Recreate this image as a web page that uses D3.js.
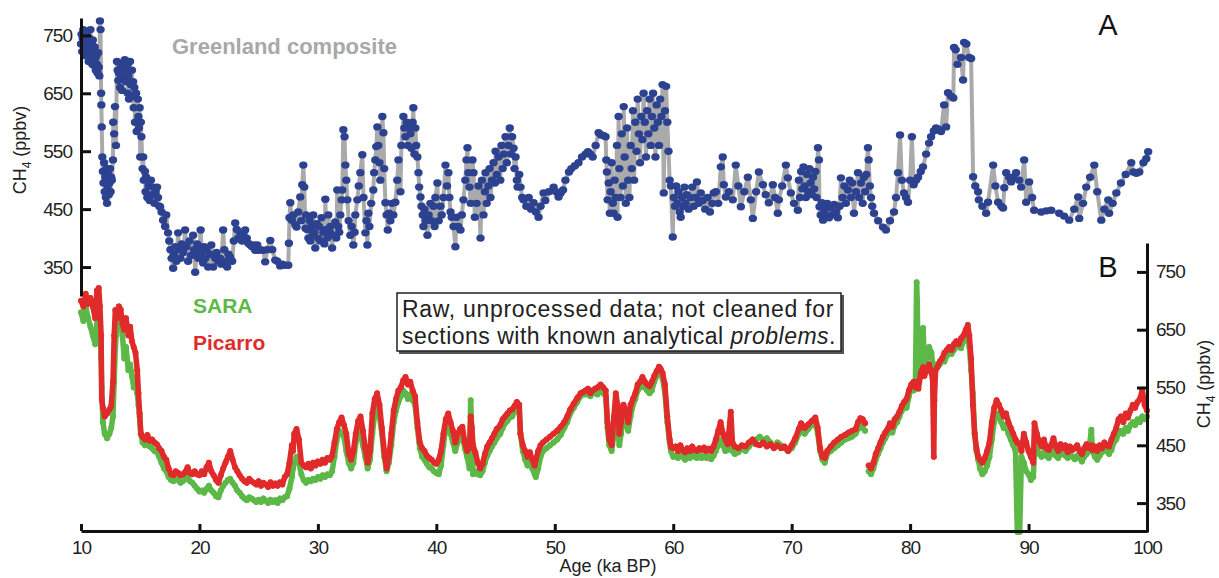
<!DOCTYPE html>
<html>
<head>
<meta charset="utf-8">
<script src="https://cdn.jsdelivr.net/npm/d3@7"></script>
<style>
  body { margin: 0; background: #fff; }
  svg { display: block; font-family: "Liberation Sans", Arial, Helvetica, sans-serif; }
</style>
</head>
<body>
<script>
// Greenland composite CH4, [age ka BP, ppbv]
const greenland = [
[10.0,735],[10.05,752],[10.1,722],[10.15,745],[10.2,760],[10.25,728],[10.3,740],[10.35,715],[10.4,748],[10.45,732],[10.5,756],[10.55,718],[10.6,738],[10.65,705],[10.7,745],[10.75,725],[10.8,760],[10.85,712],[10.9,735],[10.95,700],[11.0,742],[11.05,722],[11.1,698],[11.15,730],[11.2,710],[11.25,690],[11.3,715],[11.35,700],[11.4,685],[11.45,720],[11.5,695],[11.55,680],[11.6,775],[11.65,760],
[11.7,650],[11.72,630],[11.75,592],[11.8,540],[11.85,515],[11.9,495],[11.95,530],[12.0,480],[12.05,505],[12.1,470],[12.15,520],[12.2,460],[12.25,490],[12.3,510],[12.35,475],[12.4,495],[12.45,520],[12.5,480],[12.55,505],
[12.6,500],[12.7,535],[12.72,600],[12.8,580],[12.87,627],[12.95,560],[13.04,705],[13.1,690],[13.15,672],[13.2,685],[13.3,660],[13.35,700],[13.4,680],[13.47,655],[13.55,695],[13.6,675],[13.7,708],[13.75,690],[13.8,670],[13.9,700],[13.95,650],[14.0,680],[14.05,640],[14.14,705],[14.2,665],[14.3,690],[14.35,645],[14.4,670],[14.45,625],[14.5,660],[14.56,600],[14.65,650],[14.7,584],[14.8,640],[14.85,610],[14.9,590],[14.95,625],[15.0,540],[15.05,600],[15.1,575],[15.2,520],[15.25,540],[15.3,500],[15.4,515],[15.45,480],[15.5,505],[15.6,470],[15.7,490],[15.8,465],[15.9,500],[16.0,475],[16.1,488],[16.2,460],[16.3,480],[16.42,488],[16.5,470],[16.6,455],[16.68,454],[16.8,445],[16.93,431],[17.1,420],[17.2,440],[17.35,409],[17.45,395],[17.55,380],[17.65,365],[17.78,348],[17.85,372],[17.95,385],[18.05,360],[18.2,409],[18.3,380],[18.4,365],[18.5,390],[18.62,375],[18.79,414],[18.9,385],[19.04,360],[19.15,395],[19.3,370],[19.47,405],[19.55,380],[19.64,341],[19.75,372],[19.81,390],[19.9,365],[20.0,385],[20.1,414],[20.2,375],[20.31,357],[20.4,385],[20.5,365],[20.6,380],[20.74,350],[20.9,372],[21.0,388],[21.16,350],[21.33,365],[21.45,375],[21.58,360],[21.75,365],[21.85,355],[22.0,414],[22.1,380],[22.17,360],[22.34,350],[22.45,372],[22.6,367],[22.76,360],[22.9,395],[23.02,426],[23.15,415],[23.27,400],[23.44,409],[23.6,395],[23.69,405],[23.86,414],[24.0,400],[24.12,391],[24.29,388],[24.45,385],[24.6,388],[24.71,379],[24.88,388],[25.0,379],[25.13,380],[25.38,379],[25.55,359],[25.72,380],[25.98,396],[26.15,380],[26.4,362],[26.57,360],[26.82,352],[27.0,355],[27.24,353],[27.5,353],[27.55,391],[27.6,435],[27.67,461],[27.8,431],[27.92,440],[28.09,423],[28.2,419],[28.34,445],[28.51,471],[28.6,430],[28.68,492],[28.77,526],[28.85,488],[28.95,417],
[29.0,440],[29.1,415],[29.2,400],[29.3,430],[29.36,395],[29.45,420],[29.55,405],[29.61,440],[29.7,410],[29.78,383],[29.9,425],[30.03,400],[30.1,420],[30.2,395],[30.3,435],[30.46,410],[30.55,390],[30.63,467],[30.7,415],[30.8,400],[30.88,440],[31.0,410],[31.05,420],[31.2,383],[31.3,405],[31.47,428],[31.55,400],[31.64,483],[31.72,420],[31.8,410],[31.89,440],[32.0,466],[32.06,483],[32.15,587],[32.25,575],[32.32,526],[32.4,500],[32.49,466],[32.6,430],[32.74,405],[32.85,420],[32.99,388],[33.1,410],[33.16,440],[33.33,466],[33.45,490],[33.58,513],[33.75,544],[33.85,470],[34.01,409],[34.1,430],[34.18,388],[34.26,443],[34.35,420],[34.5,460],[34.68,483],[34.75,513],[34.85,535],[34.93,558],[35.02,592],[35.1,560],[35.2,530],[35.27,500],[35.44,610],[35.53,582],[35.6,520],[35.7,461],[35.8,440],[35.9,414],[36.0,443],[36.12,430],[36.25,460],[36.37,440],[36.54,462],[36.7,500],[36.8,535],[36.97,480],[37.05,560],[37.22,610],[37.3,590],[37.39,575],[37.5,600],[37.6,560],[37.7,590],[37.81,580],[37.9,555],[38.0,600],[38.06,625],[38.15,545],[38.23,590],[38.3,560],[38.4,540],[38.49,513],[38.55,488],[38.66,471],[38.75,455],[38.85,440],[38.91,420],[39.0,450],[39.1,430],[39.25,405],[39.35,440],[39.5,460],[39.6,430],[39.76,455],[39.85,420],[39.92,470],[40.09,495],[40.2,430],[40.35,455],[40.45,440],[40.6,470],[40.77,526],[40.9,490],[41.02,513],[41.1,470],[41.2,445],[41.3,436],[41.45,420],[41.61,385],[41.7,436],[41.85,420],[42.04,414],[42.15,440],[42.29,466],[42.45,500],[42.55,535],[42.63,556],[42.71,513],[42.8,488],[42.9,460],[43.05,535],[43.14,513],[43.25,436],[43.4,460],[43.56,490],[43.73,400],[43.85,500],[43.98,440],[44.1,480],[44.15,513],[44.25,460],[44.4,490],[44.5,520],[44.57,470],[44.7,500],[44.83,530],[44.95,495],[45.0,550],[45.1,510],[45.25,540],[45.4,500],[45.5,560],[45.6,520],[45.7,545],[45.84,575],[45.95,530],[46.09,560],[46.2,590],[46.3,545],[46.4,575],[46.52,555],[46.6,520],[46.69,540],[46.8,500],[46.86,488],
[47.0,510],[47.11,488],[47.25,470],[47.36,466],[47.6,455],[47.8,470],[48.0,450],[48.21,461],[48.4,445],[48.63,436],[48.8,455],[49.05,478],[49.2,465],[49.5,480],[49.9,488],[50.1,480],[50.32,471],[50.5,478],[50.7,483],[50.9,500],[51.2,514],[51.4,520],[51.7,525],[52.0,530],[52.3,540],[52.6,545],[52.8,549],[53.0,545],[53.2,540],[53.45,560],[53.7,582],[53.9,578],[54.1,577],[54.29,575],[54.35,535],[54.4,514],[54.46,466],[54.55,495],[54.65,443],[54.72,480],[54.8,530],[54.9,460],[54.97,443],[55.05,500],[55.14,470],[55.25,560],[55.3,436],[55.39,610],[55.45,520],[55.55,470],[55.65,580],[55.75,490],[55.82,627],[55.9,540],[56.0,460],[56.1,590],[56.2,500],[56.3,470],[56.41,560],[56.5,520],[56.6,620],[56.7,500],[56.8,600],[56.9,550],[57.0,640],[57.1,580],[57.2,530],[57.3,610],[57.4,570],[57.5,650],[57.6,600],[57.7,540],[57.8,620],[57.9,580],[58.0,640],[58.1,560],[58.2,610],[58.3,650],[58.4,590],[58.5,540],[58.6,630],[58.7,600],[58.8,560],[58.9,640],[59.0,610],[59.1,665],[59.2,478],[59.3,620],[59.4,662],[59.5,600],[59.6,550],[59.7,500],[59.8,490],[59.96,402],[60.05,470],[60.15,455],[60.25,490],[60.35,460],[60.45,480],[60.55,445],[60.63,436],[60.75,470],[60.85,455],[60.95,488],[61.05,460],[61.15,475],[61.3,450],[61.45,470],[61.6,488],[61.73,455],[61.9,470],[62.0,497],[62.16,460],[62.33,478],
[62.5,465],[62.7,450],[62.9,470],[63.1,445],[63.3,460],[63.42,478],[63.6,480],[63.8,460],[64.02,523],[64.18,540],[64.27,492],[64.44,471],[64.7,480],[65.03,466],[65.28,526],[65.5,490],[65.71,454],[66.0,480],[66.3,505],[66.55,466],[66.72,434],[67.0,480],[67.23,514],[67.57,492],[67.8,475],[68.07,461],[68.41,492],[68.6,470],[68.83,443],[68.92,466],[69.2,490],[69.51,526],[69.68,504],[69.93,478],[70.2,460],[70.52,448],[70.61,500],[70.7,470],[70.8,515],[70.9,485],[71.0,523],[71.1,490],[71.2,470],[71.3,510],[71.4,480],[71.5,520],[71.6,495],[71.7,475],[71.8,505],[71.9,485],[72.0,515],[72.1,470],[72.22,556],[72.3,535],[72.35,454],[72.45,440],[72.55,461],[72.65,431],[72.75,450],[72.9,440],[73.0,460],[73.15,435],[73.3,452],[73.45,440],[73.6,458],[73.74,445],[73.9,435],[74.05,455],[74.16,504],[74.3,470],[74.45,490],[74.58,460],[74.75,483],[74.9,500],[75.0,470],[75.1,495],[75.26,443],[75.43,480],[75.6,513],[75.7,470],[75.85,495],[76.0,460],[76.1,505],[76.2,480],[76.3,510],[76.44,556],[76.5,535],[76.6,490],[76.7,470],[76.8,455],[76.95,443],[77.3,430],[77.71,419],[77.96,414],[78.3,430],[78.64,445],[78.81,470],[78.98,513],[79.15,578],[79.3,500],[79.48,478],[79.65,470],[79.82,462],[80.0,500],[80.15,575],[80.3,492],[80.5,500],[80.67,505],[80.9,515],[81.09,523],[81.35,545],[81.6,564],[81.77,575],[82.0,585],[82.19,590],[82.4,588],[82.61,584],[82.87,630],[83.04,592],[83.2,651],[83.46,645],[83.65,642],[83.71,729],[83.85,725],[84.0,700],[84.3,712],[84.47,673],[84.56,738],[84.75,735],[84.98,712],[85.15,710],[85.32,506],[85.5,490],[85.74,480],[85.8,466],[86.1,455],[86.42,443],[86.58,462],[87.01,526],[87.2,490],[87.43,462],[87.7,455],[87.85,452],[87.95,487],[88.11,513],[88.36,505],[88.53,497],[88.7,505],[88.95,513],[89.21,500],[89.37,488],[89.63,535],[89.8,462],[90.05,497],[90.3,470],[90.47,448],[91.07,445],[91.5,447],[91.91,448],[92.59,443],[93.0,438],[93.43,431],[93.86,450],[94.19,471],[94.28,434],[94.6,460],[94.87,488],[95.2,505],[95.55,526],[95.8,480],[96.14,431],[96.4,450],[96.73,466],[96.8,443],[97.1,460],[97.41,478],[97.8,495],[98.2,510],[98.67,530],[98.84,514],[99.1,512],[99.35,514],[99.7,530],[99.94,537],[100.1,549]
];

// Raw CFA data, [age ka BP, SARA ppbv, Picarro ppbv]
const saraPicarro = [
[10.0,680,700],[10.2,665,690],[10.4,690,712],[10.6,670,695],[10.8,655,705],[11.0,640,690],[11.2,625,670],[11.35,660,718],[11.5,680,722],[11.6,650,690],
[11.7,600,640],[11.75,550,530],[11.85,490,515],[12.0,470,500],[12.2,462,505],[12.4,470,512],[12.55,480,518],
[12.7,500,560],[12.8,560,640],[12.9,620,684],[13.05,660,670],[13.2,690,690],[13.35,670,685],[13.5,640,660],[13.65,600,650],[13.8,620,670],[14.0,580,640],[14.15,590,655],[14.3,570,630],[14.45,550,620],[14.6,560,610],
[14.75,540,580],[14.85,520,540],[14.95,500,505],[15.05,470,470],
[15.2,455,465],[15.4,450,460],[15.6,455,468],[15.8,448,458],[16.0,445,460],[16.2,440,455],[16.4,438,452],
[16.6,430,445],[16.8,420,440],[17.0,410,430],[17.2,405,425],[17.4,395,410],
[17.6,390,400],[17.8,388,398],[18.0,392,405],[18.2,390,402],[18.4,385,398],[18.6,388,400],[18.8,392,404],[19.0,395,412],[19.2,388,402],
[19.4,385,400],[19.6,380,405],[19.8,375,400],[20.0,370,398],[20.2,372,405],[20.4,368,400],[20.6,375,412],[20.8,380,420],[21.0,372,405],[21.2,368,398],[21.4,362,390],[21.6,360,385],
[21.8,372,398],[22.0,380,410],[22.2,385,420],[22.4,390,430],[22.6,392,440],[22.8,385,425],[23.0,380,412],[23.2,372,405],
[23.4,368,398],[23.6,362,392],[23.8,358,388],[24.0,355,385],[24.2,360,392],[24.4,358,388],
[24.6,355,385],[24.8,352,382],[25.0,356,388],[25.2,352,380],[25.4,358,385],[25.6,354,382],[25.8,350,378],[26.0,356,386],[26.2,352,380],[26.4,355,384],[26.6,350,380],[26.8,358,386],[27.0,355,382],[27.2,360,395],[27.4,362,400],
[27.6,375,420],[27.8,395,450],[27.9,410,440],[28.0,420,470],[28.2,430,478],[28.4,420,460],[28.6,400,420],
[28.8,390,415],[29.0,385,412],[29.2,390,418],[29.4,388,410],[29.6,392,420],[29.8,390,415],[30.0,395,422],[30.2,392,418],[30.4,398,425],[30.6,395,420],[30.8,400,428],[31.0,398,425],[31.2,405,432],
[31.4,430,455],[31.6,460,478],[31.8,475,490],[32.0,470,498],[32.2,465,485],[32.4,440,470],[32.6,420,435],
[32.8,410,425],[33.0,420,440],
[33.2,455,470],[33.4,475,492],[33.6,470,500],[33.8,450,475],[34.0,430,445],[34.2,410,420],
[34.4,425,440],[34.6,470,505],[34.8,505,530],[35.0,515,540],[35.2,500,520],[35.4,470,480],[35.6,430,440],[35.8,405,410],
[36.0,420,430],[36.2,450,470],[36.4,490,510],[36.6,510,530],[36.8,525,545],
[37.0,535,550],[37.2,545,562],[37.4,540,568],[37.6,530,555],[37.8,538,560],[38.0,528,545],[38.2,520,535],[38.4,480,490],
[38.6,445,455],[38.8,430,445],[39.0,425,440],[39.2,418,432],[39.4,412,428],[39.6,410,425],[39.8,405,420],[40.0,402,418],[40.2,400,425],[40.4,415,440],
[40.6,450,470],[40.8,480,495],[41.0,485,505],[41.2,470,490],[41.4,455,475],
[41.6,440,455],[41.8,455,470],[42.0,465,478],[42.2,470,482],[42.4,445,455],[42.6,430,440],
[42.8,410,445],[42.9,528,500],[43.0,470,480],[43.1,400,450],[43.3,405,437],
[43.5,400,420],[43.7,398,410],[43.9,405,418],[44.1,420,435],[44.3,432,448],[44.5,440,455],
[44.7,448,462],[44.9,455,470],[45.1,462,478],[45.4,470,485],[45.6,480,495],[45.8,488,500],[46.0,492,505],[46.2,498,510],[46.4,500,512],[46.6,508,518],[46.8,515,525],[47.0,510,520],
[47.1,470,470],[47.3,440,450],[47.5,425,440],[47.7,415,430],[47.9,420,438],[48.1,410,425],[48.3,400,415],[48.4,395,425],[48.6,410,440],[48.8,430,450],
[49.0,440,455],[49.3,445,460],[49.6,450,465],[49.9,455,470],[50.2,460,475],[50.5,468,482],[50.8,480,490],[51.05,490,500],
[51.3,505,512],[51.6,515,522],[51.9,525,532],[52.18,535,540],
[52.4,540,542],[52.6,538,545],[52.8,540,548],[53.0,535,540],[53.2,540,545],[53.4,542,548],[53.6,538,550],[53.87,545,555],[54.1,540,550],[54.3,535,545],
[54.45,480,490],[54.6,450,460],[54.8,440,450],[55.0,470,500],[55.15,510,540],[55.3,480,520],[55.45,450,470],
[55.6,470,490],[55.8,500,520],[56.0,490,510],[56.2,475,490],[56.4,500,520],[56.6,520,530],
[56.8,530,540],[57.0,545,555],[57.2,550,560],[57.4,555,568],[57.6,550,560],[57.8,545,555],
[58.0,540,552],[58.2,545,560],[58.4,560,570],[58.6,570,578],[58.8,578,586],[58.94,580,582],[59.1,565,575],[59.3,540,555],[59.5,490,500],[59.7,455,460],[59.8,440,447],
[60.0,430,445],[60.2,432,448],[60.4,428,440],[60.6,435,450],[60.8,430,442],[61.0,425,438],[61.2,432,445],[61.4,428,440],[61.6,434,448],[61.8,430,442],[62.0,428,440],[62.2,432,445],
[62.4,428,442],[62.6,432,446],[62.8,428,440],[63.0,430,444],[63.2,426,440],[63.4,432,448],[63.6,440,460],[63.8,450,475],[64.0,460,490],[64.2,450,470],[64.4,440,460],
[64.6,442,452],[64.86,448,508],[65.0,440,455],[65.2,435,448],[65.5,438,445],[65.8,445,450],[66.1,440,448],[66.4,448,455],[66.7,455,460],[67.0,460,452],[67.3,465,450],[67.6,458,455],[67.9,462,448],[68.2,455,452],[68.5,448,445],[68.8,455,450],[69.1,450,445],[69.4,445,448],[69.7,440,440],[70.0,445,450],[70.3,455,462],[70.6,470,478],[70.8,480,488],[71.1,470,480],[71.4,478,486],[71.7,485,492],[72.0,490,498],[72.2,470,480],[72.4,440,445],[72.6,425,430],[72.8,420,428],[73.0,435,440],
[73.3,440,448],[73.6,445,455],[73.9,450,460],[74.2,455,465],[74.5,460,468],[74.8,462,472],[75.1,465,475],[75.4,470,478],
[75.6,478,490],[75.8,485,497],[76.0,480,495],[76.2,475,488],
[76.3,null,null],[76.5,405,415],[76.7,400,410],[76.9,410,420],
[77.1,425,435],[77.3,435,445],[77.5,445,455],[77.7,455,465],[77.9,462,472],
[78.1,470,478],[78.3,478,488],[78.5,472,482],[78.7,485,495],[78.9,490,500],
[79.1,500,508],[79.3,510,518],[79.5,520,525],[79.7,515,530],
[79.9,535,545],[80.1,550,555],[80.3,545,560],[80.45,560,550],[80.55,732,555],[80.6,700,560],[80.7,560,548],
[80.9,570,575],[81.0,600,580],[81.1,653,585],[81.2,590,570],[81.4,600,580],[81.6,620,590],[81.8,610,575],[81.9,590,565],
[82.0,585,430],[82.05,580,528],[82.15,590,580],
[82.3,585,585],[82.5,590,595],[82.7,600,600],[82.9,595,610],[83.1,605,615],[83.3,612,620],[83.5,608,615],[83.7,615,625],[83.9,620,630],[84.1,625,625],[84.3,618,635],[84.5,630,640],[84.7,635,650],[84.87,640,658],[85.0,620,640],
[85.15,580,600],[85.3,540,520],[85.45,470,470],[85.6,440,445],[85.75,425,430],
[85.9,410,425],[86.1,400,420],[86.3,405,428],[86.5,415,440],[86.7,430,455],
[86.9,460,490],[87.1,490,515],[87.3,505,528],[87.5,500,520],
[87.7,490,510],[87.9,480,500],[88.1,485,505],[88.3,470,490],[88.5,460,480],[88.7,450,470],
[88.9,440,460],[89.05,300,455],[89.25,300,450],[89.4,430,440],
[89.6,420,470],[89.8,405,455],[90.0,400,440],[90.2,390,430],[90.4,395,420],
[90.5,440,488],[90.7,445,470],
[90.9,435,455],[91.1,430,448],[91.3,438,460],[91.5,432,445],[91.7,428,442],[91.9,435,450],[92.1,440,462],[92.3,432,448],[92.5,428,440],[92.7,435,452],[92.9,438,445],[93.1,432,450],[93.3,428,438],[93.5,435,448],[93.7,430,442],[93.9,426,445],[94.1,432,450],[94.3,428,440],[94.5,422,435],[94.7,430,445],[94.9,435,452],[95.1,440,445],[95.3,477,450],[95.4,440,442],[95.6,430,448],[95.8,425,440],[96.0,432,450],[96.2,438,445],[96.4,445,455],[96.6,440,450],[96.8,435,448],[97.0,442,460],
[97.2,455,470],[97.4,460,480],[97.6,470,495],[97.8,475,500],[98.0,470,490],[98.2,480,505],[98.4,475,498],[98.6,485,510],[98.8,490,520],[99.0,485,515],[99.2,495,525],[99.4,490,530],[99.6,500,546],[99.8,495,520],[100.0,500,510]
];

const ageTicks = [10, 20, 30, 40, 50, 60, 70, 80, 90, 100];
const ch4Ticks = [350, 450, 550, 650, 750];

const W = 1219, H = 578;
const BLUE = "#2c4290", GREY = "#aaaaaa", GREEN = "#5cb847", RED = "#e12a2a";

const svg = d3.select("body").append("svg")
  .attr("width", W)
  .attr("height", H);

// Scales
const x = d3.scaleLinear().domain([10, 100]).range([81, 1147]);
const yA = d3.scaleLinear().domain([300, 780]).range([296, 18]);
const yB = d3.scaleLinear().domain([300, 800]).range([532, 243]);

/* Panel B: raw SARA and Picarro */
function drawRaw(col, colour) {
  const line = d3.line()
    .defined(d => d[col] != null)
    .x(d => x(d[0]))
    .y(d => yB(d[col]));
  svg.append("path")
    .datum(saraPicarro)
    .attr("d", line)
    .attr("fill", "none")
    .attr("stroke", colour)
    .attr("stroke-width", 5.5)
    .attr("stroke-linejoin", "round")
    .attr("stroke-linecap", "round");
  svg.append("g").selectAll("circle")
    .data(saraPicarro.filter(d => d[col] != null))
    .join("circle")
    .attr("cx", d => x(d[0]))
    .attr("cy", d => yB(d[col]))
    .attr("r", 3)
    .attr("fill", colour);
}
drawRaw(1, GREEN);
drawRaw(2, RED);

/* Panel A: Greenland composite */
svg.append("path")
  .datum(greenland)
  .attr("d", d3.line().x(d => x(d[0])).y(d => yA(d[1])))
  .attr("fill", "none")
  .attr("stroke", GREY)
  .attr("stroke-width", 4)
  .attr("stroke-linejoin", "round");
svg.append("g").selectAll("ellipse")
  .data(greenland)
  .join("ellipse")
  .attr("cx", d => x(d[0]))
  .attr("cy", d => yA(d[1]))
  .attr("rx", 4.2)
  .attr("ry", 3.7)
  .attr("fill", BLUE);

/* Axes */
function styleAxis(g) {
  g.select(".domain").attr("stroke", "#111").attr("stroke-width", 3);
  g.selectAll(".tick line").attr("stroke", "#111").attr("stroke-width", 3);
  g.selectAll(".tick text")
    .attr("fill", "#222")
    .style("font-size", "19px")
    .style("letter-spacing", "-1px")
    .style("font-family", "'Liberation Sans', Arial, sans-serif");
}

svg.append("g")
  .attr("transform", "translate(81,0)")
  .call(d3.axisLeft(yA).tickValues(ch4Ticks).tickSize(-10).tickSizeOuter(0).tickPadding(9))
  .call(styleAxis);

svg.append("g")
  .attr("transform", "translate(1147,0)")
  .call(d3.axisRight(yB).tickValues(ch4Ticks).tickSize(-10).tickSizeOuter(0).tickPadding(9))
  .call(styleAxis);

svg.append("g")
  .attr("transform", "translate(0,531)")
  .call(d3.axisBottom(x).tickValues(ageTicks).tickSize(-7).tickSizeOuter(0).tickPadding(10))
  .call(styleAxis);

// Axis titles
function ch4Label(tx, ty) {
  const t = svg.append("text")
    .attr("transform", `translate(${tx},${ty}) rotate(-90)`)
    .attr("text-anchor", "middle")
    .attr("fill", "#222")
    .style("font-size", "18px");
  t.append("tspan").text("CH");
  t.append("tspan").text("4").style("font-size", "12px").attr("dy", 5);
  t.append("tspan").text(" (ppbv)").attr("dy", -5);
}
ch4Label(26, 150);
ch4Label(1210, 384);

svg.append("text")
  .attr("x", 608).attr("y", 572)
  .attr("text-anchor", "middle")
  .attr("fill", "#222")
  .style("font-size", "18px")
  .text("Age (ka BP)");

// Panel letters and series names
svg.append("text").attr("x", 1108).attr("y", 35).attr("text-anchor", "middle")
  .style("font-size", "29px").attr("fill", "#111").text("A");
svg.append("text").attr("x", 1108).attr("y", 277).attr("text-anchor", "middle")
  .style("font-size", "29px").attr("fill", "#111").text("B");

svg.append("text").attr("x", 172).attr("y", 54)
  .style("font-size", "22px").style("font-weight", "bold")
  .attr("fill", "#a8a8a8").text("Greenland composite");

svg.append("text").attr("x", 193).attr("y", 313)
  .style("font-size", "21px").style("font-weight", "bold")
  .attr("fill", GREEN).text("SARA");
svg.append("text").attr("x", 193).attr("y", 350)
  .style("font-size", "21px").style("font-weight", "bold")
  .attr("fill", RED).text("Picarro");

// Note box
svg.append("rect")
  .attr("x", 399).attr("y", 295).attr("width", 445).attr("height", 59)
  .attr("fill", "#555");
svg.append("rect")
  .attr("x", 397).attr("y", 293).attr("width", 444).attr("height", 58)
  .attr("fill", "#fff").attr("stroke", "#222").attr("stroke-width", 1.5);

// stretch each note line to the width it has in the figure
function fitLine(sel, target) {
  const n = sel.text().length;
  const len = sel.node().getComputedTextLength();
  sel.style("letter-spacing", ((target - len) / n) + "px");
}
const note1 = svg.append("text").attr("x", 402).attr("y", 317)
  .style("font-size", "23px").attr("fill", "#222")
  .text("Raw, unprocessed data; not cleaned for");
fitLine(note1, 432);
const note2 = svg.append("text").attr("x", 402).attr("y", 344)
  .style("font-size", "23px").attr("fill", "#222");
note2.append("tspan").text("sections with known analytical ");
note2.append("tspan").style("font-style", "italic").text("problems");
note2.append("tspan").text(".");
fitLine(note2, 434);
</script>
</body>
</html>
